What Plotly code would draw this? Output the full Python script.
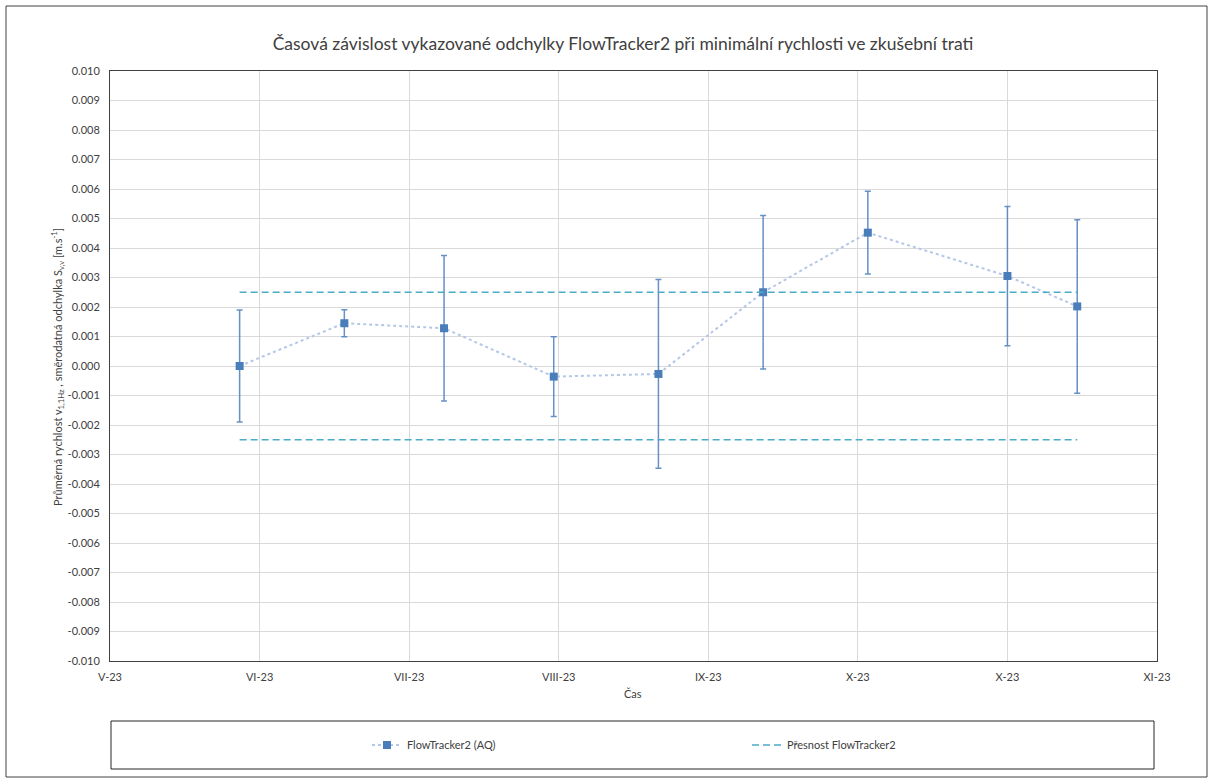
import plotly.graph_objects as go

# ---- data ----
dates = ["2023-05-30", "2023-06-20", "2023-07-10", "2023-08-01", "2023-08-22",
         "2023-09-12", "2023-10-03", "2023-10-31", "2023-11-14"]
values = [0.0000, 0.00145, 0.00128, -0.00036, -0.00027, 0.00250, 0.00452, 0.00305, 0.00202]
errors = [0.00190, 0.00046, 0.00247, 0.00135, 0.00320, 0.00260, 0.00140, 0.00236, 0.00294]
accuracy = 0.0025
acc_dates = [dates[0], dates[-1]]

x_tickvals = ["2023-05-04", "2023-06-03", "2023-07-03", "2023-08-02", "2023-09-01",
              "2023-10-01", "2023-10-31", "2023-11-30"]
x_ticktext = ["V-23", "VI-23", "VII-23", "VIII-23", "IX-23", "X-23", "X-23", "XI-23"]
y_tickvals = [round(-0.010 + 0.001 * i, 3) for i in range(21)]
y_ticktext = [f"{v:.3f}" for v in y_tickvals]

title = "Časová závislost vykazované odchylky FlowTracker2 při minimální rychlosti ve zkušební trati"
ytitle = "Průměrná rychlost v<sub>1,1Hz</sub> , směrodatná odchylka S<sub>v,v</sub> [m.s<sup>-1</sup>]"
xtitle = "Čas"

FONT = "Lato, 'Liberation Sans', sans-serif"
TXT = "#404040"

W, H = 1214, 783
L, R, T, B = 110, 1157, 71, 661

def px(xp):
    return (xp - L) / (R - L)

def py(yp):
    return (B - yp) / (B - T)

fig = go.Figure()

fig.add_trace(go.Scatter(
    x=dates, y=values, mode="lines+markers", name="FlowTracker2 (AQ)",
    line=dict(color="#B4C7E7", width=2, dash="dot"),
    marker=dict(symbol="square", size=8, color="#4A7EBB"),
    error_y=dict(type="data", array=errors, visible=True,
                 color="rgba(74,126,187,0.85)", thickness=1.5, width=3),
))
fig.add_trace(go.Scatter(
    x=acc_dates, y=[accuracy, accuracy], mode="lines", name="Přesnost FlowTracker2",
    line=dict(color="#4BACC6", width=1.5, dash="7px,4px"),
))
fig.add_trace(go.Scatter(
    x=acc_dates, y=[-accuracy, -accuracy], mode="lines", name="Přesnost FlowTracker2",
    line=dict(color="#4BACC6", width=1.5, dash="7px,4px"), showlegend=False,
))

fig.update_layout(
    width=W, height=H,
    margin=dict(l=L, r=W - R, t=T, b=H - B),
    paper_bgcolor="white", plot_bgcolor="white",
    font=dict(family=FONT, size=11, color=TXT),
    title=dict(text=title, x=623 / W, xanchor="center", y=1 - 44 / H, yanchor="middle",
               yref="container", font=dict(family=FONT, size=17.5, color=TXT)),
    showlegend=True,
    legend=dict(orientation="h", x=px(367), y=py(745), xanchor="left", yanchor="middle",
                entrywidth=335, entrywidthmode="pixels",
                font=dict(family=FONT, size=11, color=TXT), bgcolor="rgba(0,0,0,0)"),
    xaxis=dict(type="date", range=["2023-05-04", "2023-11-30"],
               tickmode="array", tickvals=x_tickvals, ticktext=x_ticktext,
               showgrid=True, gridcolor="#D9D9D9", gridwidth=1,
               showline=True, linecolor="#404040", linewidth=1, mirror=True,
               ticks="", ticklabelstandoff=6, zeroline=False, tickfont=dict(size=11, color=TXT)),
    yaxis=dict(range=[-0.010, 0.010], tickmode="array", tickvals=y_tickvals, ticktext=y_ticktext,
               showgrid=True, gridcolor="#D9D9D9", gridwidth=1,
               showline=True, linecolor="#404040", linewidth=1, mirror=True,
               ticks="", ticklabelstandoff=7, zeroline=False, tickfont=dict(size=11, color=TXT)),
    annotations=[
        dict(text=ytitle, textangle=-90, x=px(57), y=py(367), xref="paper", yref="paper",
             showarrow=False, xanchor="center", yanchor="middle",
             font=dict(family=FONT, size=11, color=TXT)),
        dict(text=xtitle, x=px(633), y=py(694), xref="paper", yref="paper",
             showarrow=False, xanchor="center", yanchor="middle",
             font=dict(family=FONT, size=11, color=TXT)),
    ],
    shapes=[
        dict(type="rect", xref="paper", yref="paper", x0=px(6), x1=px(1207), y0=py(777), y1=py(6),
             line=dict(color="#404040", width=1), fillcolor="rgba(0,0,0,0)", layer="below"),
        dict(type="rect", xref="paper", yref="paper", x0=px(111), x1=px(1154), y0=py(769), y1=py(721),
             line=dict(color="#262626", width=1), fillcolor="rgba(0,0,0,0)"),
    ],
)

fig.write_html("out.html", config={"displayModeBar": False},
               post_script="document.body.style.margin='0px';")
